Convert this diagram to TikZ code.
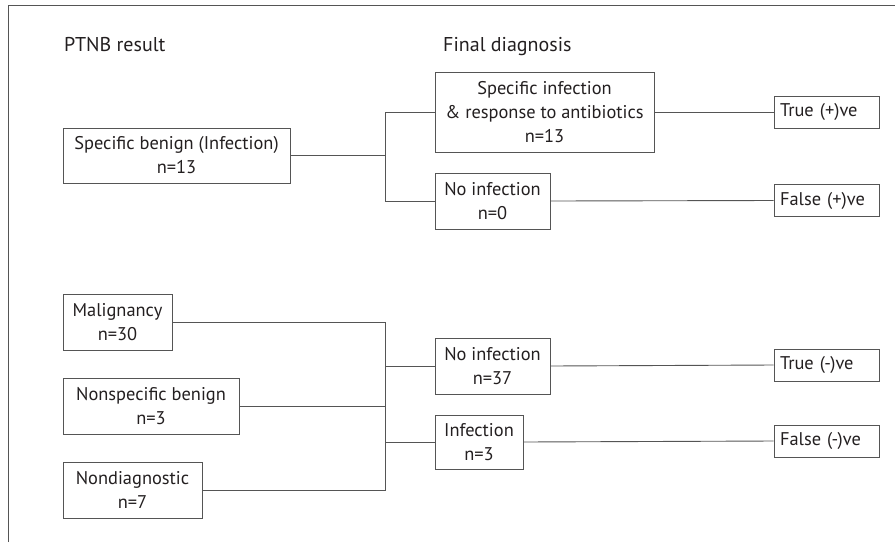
\documentclass[tikz,border=0pt]{standalone}
\usepackage{fontspec}
\setmainfont{PT Sans}
\definecolor{inkgray}{HTML}{231F20}
\definecolor{linegray}{HTML}{555555}
\tikzset{
  box/.style={draw=linegray, line width=0.9pt, align=center, inner sep=0pt,
    text=inkgray, font=\fontsize{18.4}{24}\selectfont},
  result/.style={draw=linegray, line width=0.9pt, align=left, text width=93pt,
    inner xsep=6pt, inner ysep=0pt, minimum height=32pt, text=inkgray,
    font=\fontsize{18.4}{24}\selectfont},
  heading/.style={anchor=west, inner sep=0pt, text=inkgray,
    font=\fontsize{20}{24}\selectfont},
  link/.style={draw=linegray, line width=0.9pt}
}
\begin{document}
\begin{tikzpicture}[x=1pt,y=-1pt]
\useasboundingbox (0,0) rectangle (895,542);
% frame
\draw[link] (8,542) -- (8,5) -- (895,5);
% headings
\node[heading] (ptnb) at (64,45) {PTNB result};
\node[heading] (final) at (443,47) {Final diagnosis};
% upper part
\node[box, minimum width=227pt, minimum height=55pt] (spec) at (176.5,155.5) {Specific benign (Infection)\\n=13};
\node[box, minimum width=219pt, minimum height=80pt] (specinf) at (544.5,112) {Specific infection\\\& response to antibiotics\\n=13};
\node[box, minimum width=115pt, minimum height=56pt] (noinfa) at (492.5,201) {No infection\\n=0};
\node[result] (truepos) at (826.5,112) {True (+)ve};
\node[result] (falsepos) at (826.5,200.5) {False (+)ve};
\coordinate (ja) at (385,155.5);
\draw[link] (spec.east) -- (ja);
\draw[link] (ja) |- (specinf.west);
\draw[link] (ja) |- (noinfa.west);
\draw[link] (specinf.east) -- (truepos.west);
\draw[link] (noinfa.east) -- (falsepos.west);
% lower part
\node[box, minimum width=109pt, minimum height=56pt] (malig) at (117.5,322.5) {Malignancy\\n=30};
\node[box, minimum width=176pt, minimum height=56pt] (nonspec) at (151,406) {Nonspecific benign\\n=3};
\node[box, minimum width=139pt, minimum height=56pt] (nondiag) at (132.5,490) {Nondiagnostic\\n=7};
\node[box, minimum width=115pt, minimum height=56pt] (noinfb) at (492.5,366) {No infection\\n=37};
\node[box, minimum width=88pt, minimum height=54pt] (infb) at (479,442) {Infection\\n=3};
\node[result] (trueneg) at (826.5,365) {True (-)ve};
\node[result] (falseneg) at (826.5,441) {False (-)ve};
\coordinate (jb) at (385,406);
\draw[link] (malig.east) -| (jb);
\draw[link] (nonspec.east) -- (jb);
\draw[link] (nondiag.east) -| (jb);
\draw[link] (noinfb.west) -| (jb);
\draw[link] (infb.west) -| (jb);
\draw[link] (noinfb.east) -- (trueneg.west);
\draw[link] (infb.east) -- (falseneg.west);
\end{tikzpicture}
\end{document}
